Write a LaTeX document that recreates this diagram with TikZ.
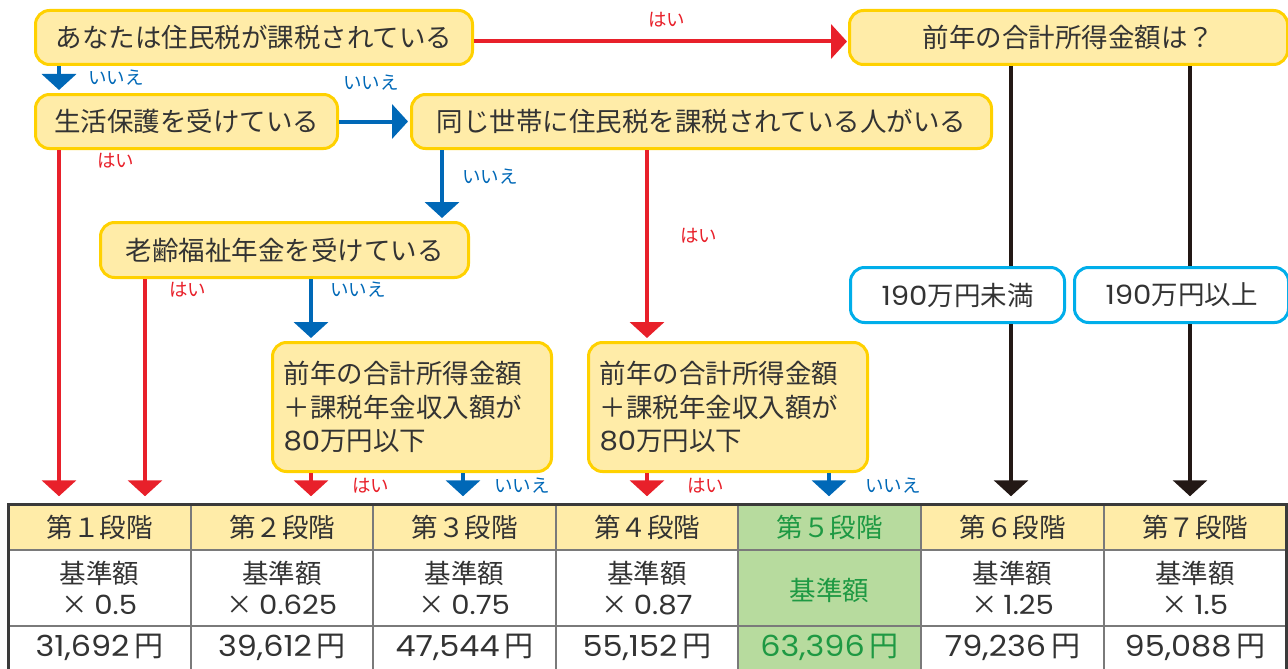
\documentclass[tikz,border=0pt]{standalone}
\usepackage{fontspec}
\setmainfont{Noto Sans CJK JP}
\newfontfamily\numfont[FakeStretch=1.1]{Poppins}
\usetikzlibrary{arrows.meta}
\definecolor{boxfill}{HTML}{FFECA8}
\definecolor{boxline}{HTML}{FFD100}
\definecolor{ared}{HTML}{E8202A}
\definecolor{ablue}{HTML}{0068B7}
\definecolor{ablack}{HTML}{231815}
\definecolor{cyanline}{HTML}{00AEEA}
\definecolor{txt}{HTML}{333333}
\definecolor{gfill}{HTML}{B7DB9E}
\definecolor{gtext}{HTML}{1E9943}
\definecolor{hfill}{HTML}{FFECA8}
\definecolor{gridc}{HTML}{7A7A7A}
\definecolor{tborder}{HTML}{3A3A3A}
\begin{document}
\begin{tikzpicture}[x=1pt,y=-1pt,
  ybox/.style={draw=boxline, fill=boxfill, line width=3pt, rounded corners=14pt,
    inner sep=0pt, text=txt, font=\fontsize{26.5}{34}\selectfont, anchor=north west},
  ybox3/.style={ybox, align=left, text width=257pt, font=\fontsize{26.5}{33.5}\selectfont},
  cbox/.style={draw=cyanline, fill=white, line width=3pt, rounded corners=14pt,
    inner sep=0pt, text=txt, font=\fontsize{26.5}{34}\selectfont, anchor=north west},
  arr/.style={line width=4pt, -{Triangle[width=34pt,length=16pt]}},
  blk/.style={line width=3.5pt, ablack},
  lab/.style={font=\fontsize{18.5}{18.5}\selectfont, anchor=west, inner sep=0pt},
  hcell/.style={fill=hfill, draw=gridc, line width=1.5pt, inner sep=0pt, text=txt,
    minimum height=46pt, font=\fontsize{26.5}{30}\selectfont},
  mcell/.style={inner sep=0pt, text=txt, align=center, font=\fontsize{26.5}{31}\selectfont},
  vcell/.style={inner sep=0pt, text=txt, font=\fontsize{29}{30}\selectfont},
  gridline/.style={draw=gridc, line width=1.5pt}
]
\useasboundingbox (0,0) rectangle (1288,669);
\clip (0,0) rectangle (1288,669);

% x positions of connectors
\coordinate (xa) at (59,0);
\coordinate (xb) at (145,0);
\coordinate (xc) at (311,0);
\coordinate (xd) at (442,0);
\coordinate (xe) at (463,0);
\coordinate (xf) at (647,0);
\coordinate (xg) at (829,0);
\coordinate (xh) at (1011,0);
\coordinate (xi) at (1190,0);

% table
\fill[white] (8,550) rectangle (1286,680);
\fill[gfill] (738,550) rectangle (921,680);
\node[hcell, minimum width=183pt] (H1) at (99.5,527) {第１段階};
\node[hcell, minimum width=182pt] (H2) at (282,527) {第２段階};
\node[hcell, minimum width=183pt] (H3) at (464.5,527) {第３段階};
\node[hcell, minimum width=182pt] (H4) at (647,527) {第４段階};
\node[hcell, minimum width=183pt, fill=gfill, text=gtext] (H5) at (829.5,527) {第５段階};
\node[hcell, minimum width=183pt] (H6) at (1012.5,527) {第６段階};
\node[hcell, minimum width=182pt] (H7) at (1195,527) {第７段階};
\draw[gridline] (8,550) -- (1286,550);
\draw[gridline] (8,626) -- (1286,626);
\foreach \c in {191,373,556,738,921,1104} \draw[gridline] (\c,504) -- (\c,680);
\draw[line width=3pt, tborder] (8,680) -- (8,504) -- (1286,504) -- (1286,680);

\node[mcell] (M1) at (99.5,588) {基準額\\× {\numfont 0.5}};
\node[mcell] (M2) at (282,588) {基準額\\× {\numfont 0.625}};
\node[mcell] (M3) at (464.5,588) {基準額\\× {\numfont 0.75}};
\node[mcell] (M4) at (647,588) {基準額\\× {\numfont 0.87}};
\node[mcell, text=gtext] (M5) at (829.5,590) {基準額};
\node[mcell] (M6) at (1012.5,588) {基準額\\× {\numfont 1.25}};
\node[mcell] (M7) at (1195,588) {基準額\\× {\numfont 1.5}};

\node[vcell] (V1) at (99.5,647) {{\numfont 31,692}\,円};
\node[vcell] (V2) at (282,647) {{\numfont 39,612}\,円};
\node[vcell] (V3) at (464.5,647) {{\numfont 47,544}\,円};
\node[vcell] (V4) at (647,647) {{\numfont 55,152}\,円};
\node[vcell, text=gtext] (V5) at (829.5,647) {{\numfont 63,396}\,円};
\node[vcell] (V6) at (1012.5,647) {{\numfont 79,236}\,円};
\node[vcell] (V7) at (1195,647) {{\numfont 95,088}\,円};

% decision boxes
\node[ybox, minimum width=437pt, minimum height=54pt] (A) at (34,9) {あなたは住民税が課税されている};
\node[ybox, minimum width=438pt, minimum height=54pt] (B) at (848,9) {前年の合計所得金額は？};
\node[ybox, minimum width=302pt, minimum height=54pt] (C) at (34,93) {生活保護を受けている};
\node[ybox, minimum width=580pt, minimum height=54pt] (D) at (410,93) {同じ世帯に住民税を課税されている人がいる};
\node[ybox, minimum width=368pt, minimum height=55pt] (E) at (99,221) {老齢福祉年金を受けている};
\node[ybox3, minimum width=279pt, minimum height=129pt] (F) at (271,341) {前年の合計所得金額\\＋課税年金収入額が\\{\numfont 80}万円以下};
\node[ybox3, minimum width=279pt, minimum height=129pt] (G) at (587,341) {前年の合計所得金額\\＋課税年金収入額が\\{\numfont 80}万円以下};
\node[cbox, minimum width=214pt, minimum height=55pt] (K1) at (849,266) {{\numfont 190}万円未満};
\node[cbox, minimum width=214pt, minimum height=55pt] (K2) at (1073,266) {{\numfont 190}万円以上};

% connectors
\draw[arr, ared, shorten >=1pt] ([yshift=-4pt]A.east) -- ([yshift=-4pt]B.west);
\draw[arr, ablue, shorten >=3pt] (A.south -| xa) -- (C.north -| xa);
\draw[arr, ablue, shorten >=2pt] (C.east) -- (D.west);
\draw[arr, ared, shorten >=7pt] (C.south -| xa) -- (H1.north -| xa);
\draw[arr, ablue, shorten >=3pt] (D.south -| xd) -- (E.north -| xd);
\draw[arr, ared, shorten >=3pt] (D.south -| xf) -- (G.north -| xf);
\draw[arr, ared, shorten >=7pt] (E.south -| xb) -- (H1.north -| xb);
\draw[arr, ablue, shorten >=3pt] (E.south -| xc) -- (F.north -| xc);
\draw[arr, ared, shorten >=7pt] (F.south -| xc) -- (H2.north -| xc);
\draw[arr, ablue, shorten >=7pt] (F.south -| xe) -- (H3.north -| xe);
\draw[arr, ared, shorten >=7pt] (G.south -| xf) -- (H4.north -| xf);
\draw[arr, ablue, shorten >=7pt] (G.south -| xg) -- (H5.north -| xg);
\draw[blk] (B.south -| xh) -- (K1.north -| xh);
\draw[blk] (B.south -| xi) -- (K2.north -| xi);
\draw[arr, blk, shorten >=7pt] (K1.south -| xh) -- (H6.north -| xh);
\draw[arr, blk, shorten >=7pt] (K2.south -| xi) -- (H7.north -| xi);

% labels
\node[lab, ared] (l1) at (648,20) {はい};
\node[lab, ablue] (l2) at (88,78) {いいえ};
\node[lab, ablue] (l3) at (343,83) {いいえ};
\node[lab, ared] (l4) at (97,161) {はい};
\node[lab, ablue] (l5) at (462,177) {いいえ};
\node[lab, ared] (l6) at (680,236) {はい};
\node[lab, ared] (l7) at (169,290) {はい};
\node[lab, ablue] (l8) at (330,290) {いいえ};
\node[lab, ared] (l9) at (352,486) {はい};
\node[lab, ablue] (l10) at (494,486) {いいえ};
\node[lab, ared] (l11) at (687,486) {はい};
\node[lab, ablue] (l12) at (865,486) {いいえ};
\end{tikzpicture}
\end{document}
